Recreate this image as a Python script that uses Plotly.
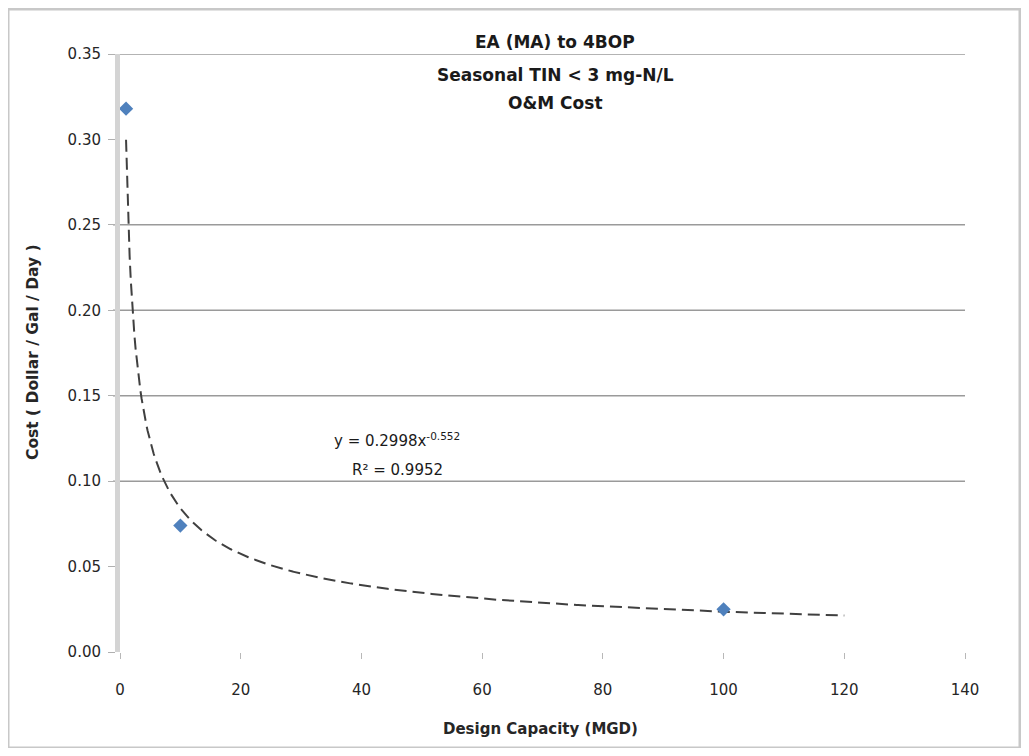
import numpy as np
import plotly.graph_objects as go

# Data
capacity_mgd = [1, 10, 100]
cost_per_gal_day = [0.318, 0.074, 0.025]

# Excel power trendline shown on the chart (y = a * x^b)
trend_a = 0.2998
trend_b = -0.552
trend_r2 = 0.9952
trend_x_range = [1, 120]

x_ticks = [0, 20, 40, 60, 80, 100, 120, 140]
y_ticks = [0.00, 0.05, 0.10, 0.15, 0.20, 0.25, 0.30, 0.35]
y_tick_text = ["0.00", "0.05", "0.10", "0.15", "0.20", "0.25", "0.30", "0.35"]
# horizontal gridlines that are visible in the reference
grid_values = [0.10, 0.15, 0.20, 0.25, 0.35]

title_lines = ["EA (MA) to 4BOP", "Seasonal TIN < 3 mg-N/L", "O&M Cost"]

# page body has an 8px margin: figure is drawn at (8, 8) on screen
OFF = 8
W, H = 1013, 740
L, T = 112, 46
PW, PH = 845, 598
R, B = W - L - PW, H - T - PH
FONT = "'DejaVu Sans', sans-serif"
TXT = "#262626"


def px(sx):
    return (sx - OFF - L) / PW


def py(sy):
    return (H - B - (sy - OFF)) / PH


tx = np.linspace(trend_x_range[0], trend_x_range[1], 600)
ty = trend_a * tx ** trend_b

fig = go.Figure()
fig.add_trace(go.Scatter(x=tx, y=ty, mode="lines",
                         line=dict(color="#404040", width=2, dash="12px,6px"),
                         hoverinfo="skip", showlegend=False))
fig.add_trace(go.Scatter(x=capacity_mgd, y=cost_per_gal_day, mode="markers",
                         marker=dict(symbol="diamond", size=11, color="#4f81bd"),
                         showlegend=False))

for gv in grid_values:
    fig.add_shape(type="line", xref="paper", yref="y", x0=px(113), x1=1, y0=gv, y1=gv,
                  line=dict(color="#9a9a9a", width=1.5), layer="below")

fig.update_layout(
    width=W, height=H,
    margin=dict(l=L, r=R, t=T, b=B),
    paper_bgcolor="white", plot_bgcolor="white",
    font=dict(family=FONT, size=15, color=TXT),
    xaxis=dict(range=[0, 140], tickvals=x_ticks, showgrid=False, zeroline=False,
               showline=False, ticks="outside", ticklen=6, tickcolor="#b8b8b8",
               ticklabelstandoff=18, tickfont=dict(size=15, color=TXT)),
    yaxis=dict(range=[0, 0.35], tickvals=y_ticks, ticktext=y_tick_text,
               showgrid=False, zeroline=False,
               showline=True, linecolor="#d4d4d4", linewidth=5,
               ticks="outside", ticklen=7, tickcolor="#b0b0b0",
               ticklabelstandoff=4, tickfont=dict(size=15, color=TXT)),
)

# Outer chart border
fig.add_shape(type="rect", xref="paper", yref="paper",
              x0=px(8), x1=px(1020), y0=py(748), y1=py(9),
              line=dict(color="#c8c8c8", width=3), fillcolor="rgba(0,0,0,0)",
              layer="below")


def label(text, sx, sy, size, color="#1a1a1a", angle=0):
    fig.add_annotation(text=text, xref="paper", yref="paper",
                       x=px(sx), y=py(sy), xanchor="center", yanchor="middle",
                       showarrow=False, textangle=angle,
                       font=dict(size=size, color=color))


# Title lines
for txt, yy in zip(title_lines, [42, 75, 103]):
    label("<b>" + txt + "</b>", 555, yy, 17)

# Axis titles
label("<b>Design Capacity (MGD)</b>", 540, 729, 15, TXT)
label("<b>Cost ( Dollar / Gal / Day )</b>", 33, 352, 15.5, TXT, angle=-90)

# Trendline equation
label("y = %.4fx<sup>%.3f</sup>" % (trend_a, trend_b), 397, 440, 15)
label("R² = %.4f" % trend_r2, 397, 470, 15)

fig.write_html("out.html")
